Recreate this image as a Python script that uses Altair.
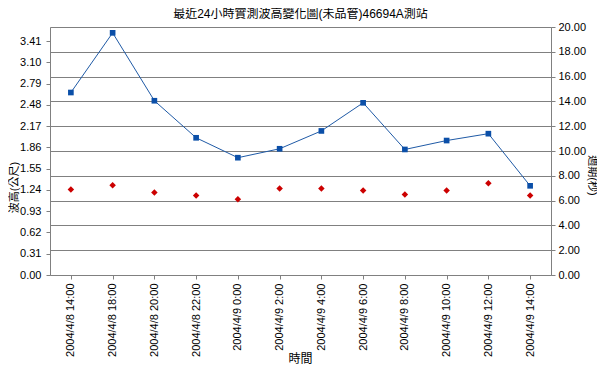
import altair as alt
import pandas as pd

times = ["2004/4/8 14:00", "2004/4/8 18:00", "2004/4/8 20:00", "2004/4/8 22:00",
         "2004/4/9 0:00", "2004/4/9 2:00", "2004/4/9 4:00", "2004/4/9 6:00",
         "2004/4/9 8:00", "2004/4/9 10:00", "2004/4/9 12:00", "2004/4/9 14:00"]
wave_height = [2.66, 3.53, 2.54, 2.00, 1.71, 1.84, 2.10, 2.51, 1.83, 1.96, 2.06, 1.30]
period = [6.90, 7.23, 6.66, 6.42, 6.10, 6.98, 6.98, 6.82, 6.50, 6.82, 7.39, 6.42]
left_ticks = [0.00, 0.31, 0.62, 0.93, 1.24, 1.55, 1.86, 2.17, 2.48, 2.79, 3.10, 3.41]
right_ticks = [0, 2, 4, 6, 8, 10, 12, 14, 16, 18, 20]

df = pd.DataFrame({"time": times, "h": wave_height, "p": period})

FONT = "Liberation Sans, Arial, Noto Sans CJK TC, sans-serif"
GRAY = "#808080"

x_enc = alt.X("time:N", sort=times,
              scale=alt.Scale(type="point", padding=0.5),
              axis=alt.Axis(title="時間", labelAngle=-90, labelFontSize=11,
                            labelFont=FONT, labelColor="#000000", tickSize=4,
                            labelPadding=4, domainColor=GRAY, tickColor=GRAY,
                            titleFont=FONT, titleFontSize=12, titleFontWeight="normal",
                            titleColor="#000000", titleX=250, titleY=83,
                            titleAlign="center", titleBaseline="middle",
                            labelOverlap=False))

base = alt.Chart(df)

y_left = alt.Y("h:Q", scale=alt.Scale(domain=[0, 3.615], nice=False, zero=True),
               axis=alt.Axis(title="波高(公尺)", orient="left", values=left_ticks,
                             format=".2f", grid=False, tickSize=4, labelPadding=5,
                             labelFont=FONT, labelFontSize=11, labelColor="#000000",
                             domainColor=GRAY, tickColor=GRAY,
                             titleFont=FONT, titleFontSize=11, titleFontWeight="normal",
                             titleColor="#000000", titleAngle=-90, titleX=-36, titleY=160,
                             titleAlign="center", titleBaseline="middle"))

line = base.mark_line(color="#1F5AA6", strokeWidth=1).encode(x=x_enc, y=y_left)
squares = base.mark_point(shape="square", filled=True, size=32, color="#0B4FA8",
                          opacity=1).encode(x=x_enc, y=y_left)

y_right = alt.Y("p:Q", scale=alt.Scale(domain=[0, 20], nice=False, zero=True),
                axis=alt.Axis(title="週期(秒)", orient="right", values=right_ticks,
                              format=".2f", grid=True, gridColor=GRAY, gridWidth=1,
                              gridOpacity=1, tickSize=4, labelPadding=3,
                              labelFont=FONT, labelFontSize=11, labelColor="#000000",
                              domainColor=GRAY, tickColor=GRAY,
                              titleFont=FONT, titleFontSize=11, titleFontWeight="normal",
                              titleColor="#000000", titleAngle=90, titleX=40, titleY=148,
                              titleAlign="center", titleBaseline="middle"))

diamonds = base.mark_point(shape="diamond", filled=True, size=42, color="#CC0000",
                           opacity=1).encode(x=x_enc, y=y_right)

left_layer = alt.layer(line, squares)
chart = alt.layer(diamonds, left_layer).resolve_scale(y="independent").properties(
    width=501, height=248,
    autosize=alt.AutoSizeParams(type="none"),
    padding={"left": 42, "top": 19, "right": 46, "bottom": 89},
    title=alt.TitleParams("最近24小時實測波高變化圖(未品管)46694A測站", font=FONT,
                          fontSize=12, fontWeight="normal", color="#000000",
                          anchor="middle", offset=0),
).configure_view(stroke=None).configure(background="white")

chart.save("out.html", embed_options={"renderer": "svg", "actions": False})
